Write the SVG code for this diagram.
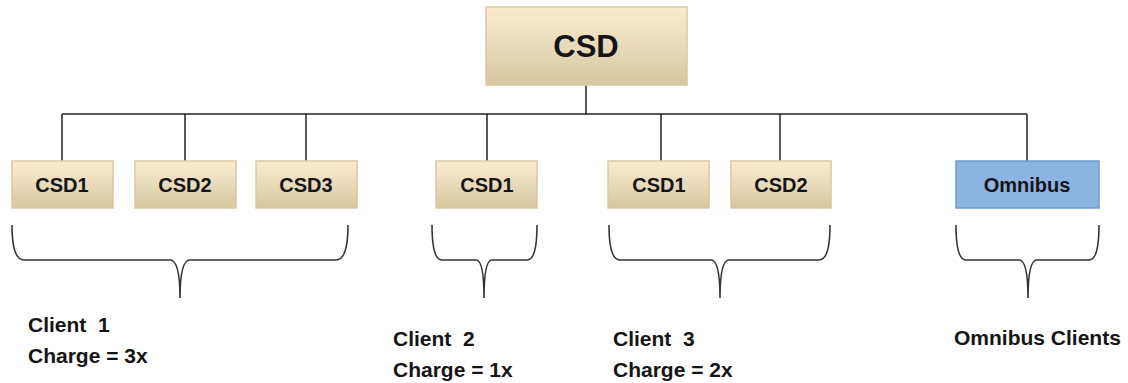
<svg xmlns="http://www.w3.org/2000/svg" width="1128" height="383" viewBox="0 0 1128 383">
<defs>
<linearGradient id="tan" x1="0" y1="0" x2="0" y2="1">
<stop offset="0" stop-color="#FBEBCC"/>
<stop offset="0.5" stop-color="#E8DBBB"/>
<stop offset="1" stop-color="#D7C69E"/>
</linearGradient>
<style>
.box{fill:url(#tan);stroke:#D9C9A2;stroke-width:1.5}
.blue{fill:#8DB3E2;stroke:#6F9CD4;stroke-width:1.5}
.lbl{font-family:"Liberation Sans",Arial,sans-serif;font-weight:bold;font-size:20px;fill:#151515;text-anchor:middle}
.big{font-size:31px}
.cl{font-family:"Liberation Sans",Arial,sans-serif;font-weight:bold;font-size:21px;fill:#151515;white-space:pre}
.ln{stroke:#222;stroke-width:1.5;fill:none}
.br{stroke:#333;stroke-width:1.6;fill:none}
</style>
</defs>
<rect width="1128" height="383" fill="#fff"/>
<g id="connectors">
<line class="ln" x1="586" y1="85" x2="586" y2="114"/>
<line class="ln" x1="62" y1="114" x2="1027" y2="114"/>
<line class="ln" x1="62" y1="114" x2="62" y2="161"/>
<line class="ln" x1="185" y1="114" x2="185" y2="161"/>
<line class="ln" x1="306" y1="114" x2="306" y2="161"/>
<line class="ln" x1="487" y1="114" x2="487" y2="161"/>
<line class="ln" x1="661" y1="114" x2="661" y2="161"/>
<line class="ln" x1="780" y1="114" x2="780" y2="161"/>
<line class="ln" x1="1027" y1="114" x2="1027" y2="161"/>
</g>
<g id="csd"><rect class="box" x="486" y="7" width="201" height="78"/><text class="lbl big" x="586" y="57">CSD</text></g>
<g id="c1-csd1"><rect class="box" x="12" y="161" width="101" height="47"/><text class="lbl" x="62" y="192">CSD1</text></g>
<g id="c1-csd2"><rect class="box" x="135" y="161" width="101" height="47"/><text class="lbl" x="185" y="192">CSD2</text></g>
<g id="c1-csd3"><rect class="box" x="256" y="161" width="101" height="47"/><text class="lbl" x="306" y="192">CSD3</text></g>
<g id="c2-csd1"><rect class="box" x="436" y="161" width="101" height="47"/><text class="lbl" x="487" y="192">CSD1</text></g>
<g id="c3-csd1"><rect class="box" x="608" y="161" width="101" height="47"/><text class="lbl" x="659" y="192">CSD1</text></g>
<g id="c3-csd2"><rect class="box" x="731" y="161" width="100" height="47"/><text class="lbl" x="781" y="192">CSD2</text></g>
<g id="omnibus"><rect class="blue" x="956" y="161" width="143" height="47"/><text class="lbl" x="1027" y="192">Omnibus</text></g>
<g id="braces">
<path class="br" d="M12,225 Q12,260 24,260 L170,260 Q180,260 180,298 Q180,260 190,260 L336,260 Q348,260 348,225"/>
<path class="br" d="M432,225 Q432,260 442,260 L476,260 Q484,260 484,298 Q484,260 492,260 L527,260 Q537,260 537,225"/>
<path class="br" d="M609,225 Q609,260 620,260 L711,260 Q720,260 720,298 Q720,260 729,260 L819,260 Q830,260 830,225"/>
<path class="br" d="M956,225 Q956,260 966,260 L1019,260 Q1028,260 1028,298 Q1028,260 1037,260 L1089,260 Q1099,260 1099,225"/>
</g>
<g id="client1"><text class="cl" x="28" y="332" xml:space="preserve">Client  1</text><text class="cl" x="28" y="363">Charge = 3x</text></g>
<g id="client2"><text class="cl" x="393" y="346" xml:space="preserve">Client  2</text><text class="cl" x="393" y="377">Charge = 1x</text></g>
<g id="client3"><text class="cl" x="613" y="346" xml:space="preserve">Client  3</text><text class="cl" x="613" y="377">Charge = 2x</text></g>
<g id="omnibus-clients"><text class="cl" x="954" y="345">Omnibus Clients</text></g>
</svg>
